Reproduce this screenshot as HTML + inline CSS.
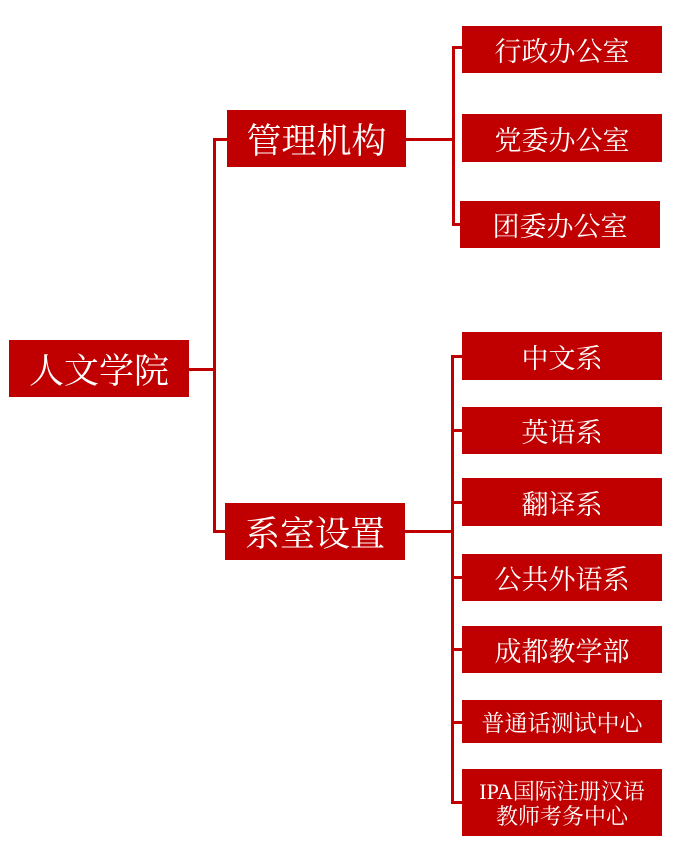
<!DOCTYPE html>
<html><head><meta charset="utf-8"><style>
body{margin:0;width:674px;height:847px;background:#fff;position:relative;overflow:hidden}
.b{position:absolute;background:#c00000;color:#fff;display:flex;align-items:center;justify-content:center;text-align:center;font-family:"Liberation Serif","Noto Serif CJK SC",serif;line-height:1.2;box-sizing:border-box;padding-top:6px}
.l{position:absolute;background:#c00000}
</style></head><body>
<div class="l" style="left:189px;top:368px;width:26px;height:3px"></div>
<div class="l" style="left:213px;top:138px;width:3px;height:395px"></div>
<div class="l" style="left:213px;top:138px;width:14px;height:3px"></div>
<div class="l" style="left:213px;top:530px;width:12px;height:3px"></div>
<div class="l" style="left:406px;top:138px;width:48px;height:3px"></div>
<div class="l" style="left:452px;top:46px;width:3px;height:180px"></div>
<div class="l" style="left:452px;top:46px;width:10px;height:3px"></div>
<div class="l" style="left:452px;top:223px;width:10px;height:3px"></div>
<div class="l" style="left:405px;top:530px;width:49px;height:3px"></div>
<div class="l" style="left:451px;top:355px;width:3px;height:448px"></div>
<div class="l" style="left:451px;top:355px;width:11px;height:3px"></div>
<div class="l" style="left:451px;top:429px;width:11px;height:3px"></div>
<div class="l" style="left:451px;top:501px;width:11px;height:3px"></div>
<div class="l" style="left:451px;top:576px;width:11px;height:3px"></div>
<div class="l" style="left:451px;top:648px;width:11px;height:3px"></div>
<div class="l" style="left:451px;top:721px;width:11px;height:3px"></div>
<div class="l" style="left:451px;top:801px;width:11px;height:3px"></div>
<div class="b" style="left:9px;top:340px;width:180px;height:57px;font-size:35px">人文学院</div>
<div class="b" style="left:227px;top:110px;width:179px;height:57px;font-size:35px">管理机构</div>
<div class="b" style="left:225px;top:503px;width:180px;height:57px;font-size:35px">系室设置</div>
<div class="b" style="left:462px;top:26px;width:200px;height:47px;font-size:27px">行政办公室</div>
<div class="b" style="left:462px;top:114px;width:200px;height:48px;font-size:27px">党委办公室</div>
<div class="b" style="left:460px;top:201px;width:200px;height:47px;font-size:27px">团委办公室</div>
<div class="b" style="left:462px;top:332px;width:200px;height:48px;font-size:27px">中文系</div>
<div class="b" style="left:462px;top:407px;width:200px;height:47px;font-size:27px">英语系</div>
<div class="b" style="left:462px;top:478px;width:200px;height:48px;font-size:27px">翻译系</div>
<div class="b" style="left:462px;top:554px;width:200px;height:47px;font-size:27px">公共外语系</div>
<div class="b" style="left:462px;top:626px;width:200px;height:47px;font-size:27px">成都教学部</div>
<div class="b" style="left:462px;top:700px;width:200px;height:43px;font-size:23px;padding-top:4px">普通话测试中心</div>
<div class="b" style="left:462px;top:769px;width:200px;height:67px;font-size:22px;padding-top:4px;line-height:1.1">IPA国际注册汉语<br>教师考务中心</div>
</body></html>
